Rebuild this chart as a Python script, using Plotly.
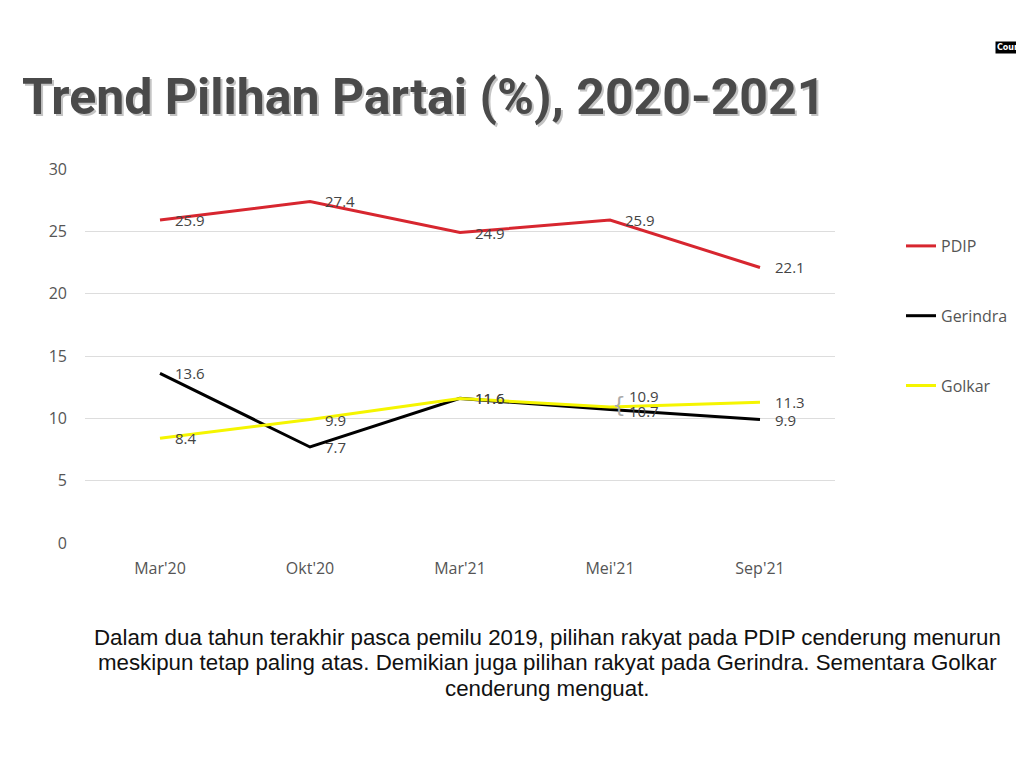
import plotly.graph_objects as go

categories = ["Mar'20", "Okt'20", "Mar'21", "Mei'21", "Sep'21"]
pdip = [25.9, 27.4, 24.9, 25.9, 22.1]
gerindra = [13.6, 7.7, 11.6, 10.7, 9.9]
golkar = [8.4, 9.9, 11.6, 10.9, 11.3]
y_ticks = [0, 5, 10, 15, 20, 25, 30]

series = [
    ("PDIP", pdip, "#d7262f"),
    ("Gerindra", gerindra, "#000000"),
    ("Golkar", golkar, "#f5f500"),
]

# label nudges (pixels) to avoid overlap, keyed by (series, index)
label_yshift = {("Golkar", 3): 11, ("Gerindra", 3): -1}
label_xshift = {("Golkar", 3): 17, ("Gerindra", 3): 17}

LABEL_FONT = "Open Sans, DejaVu Sans"

# page body has an 8px margin; layout numbers below are in figure pixels
OFF = 8
L, T, PW, PH = 85 - OFF, 169 - OFF, 750, 374


def px(sx):
    return (sx - OFF - L) / PW


def py(sy):
    return (T + PH - (sy - OFF)) / PH


fig = go.Figure()
for i, (name, vals, col) in enumerate(series):
    fig.add_trace(go.Scatter(
        x=categories, y=vals, mode="lines", name=name,
        line=dict(color=col, width=3), legendgroup=name,
    ))
    for j, (c, v) in enumerate(zip(categories, vals)):
        fig.add_annotation(
            x=c, y=v, text=f"{v}", showarrow=False, xanchor="left",
            xshift=label_xshift.get((name, j), 13), yshift=label_yshift.get((name, j), 0),
            font=dict(family=LABEL_FONT, size=15, color="#444444"),
        )

# bracket for the close Mei'21 labels
fig.add_annotation(x="Mei'21", y=10.8, text="{", showarrow=False, xanchor="left",
                   xshift=0, yshift=4,
                   font=dict(family="DejaVu Sans ExtraLight, DejaVu Sans", size=22, color="#aaaaaa"))

title = "Trend Pilihan Partai (%), 2020-2021"
tfont = "Roboto, DejaVu Sans"
fig.add_annotation(xref="paper", yref="paper", x=px(20), y=py(66), xanchor="left", yanchor="top",
                   xshift=2, yshift=-2,
                   text=f"<b>{title}</b>", showarrow=False,
                   font=dict(family=tfont, size=50, color="#c4c4c4"))
fig.add_annotation(xref="paper", yref="paper", x=px(20), y=py(66), xanchor="left", yanchor="top",
                   text=f"<b>{title}</b>", showarrow=False,
                   font=dict(family=tfont, size=50, color="#4a4a4a"))

caption_lines = [
    "Dalam dua tahun terakhir pasca pemilu 2019, pilihan rakyat pada PDIP cenderung menurun",
    "meskipun tetap paling atas. Demikian juga pilihan rakyat pada Gerindra. Sementara Golkar",
    "cenderung menguat.",
]
caption_px_y = [637, 662, 688]
for line, sy in zip(caption_lines, caption_px_y):
    fig.add_annotation(xref="paper", yref="paper", x=px(547), y=py(sy),
                       xanchor="center", yanchor="middle",
                       text=line, showarrow=False,
                       font=dict(family="Liberation Sans, Arial", size=22.3, color="#111111"))

fig.add_annotation(xref="paper", yref="paper", x=px(995), y=py(47),
                   xanchor="left", yanchor="middle",
                   text="<b>Courtesy</b>", showarrow=False, bgcolor="#000000", borderpad=1,
                   font=dict(family="DejaVu Sans", size=8, color="#ffffff"))

fig.update_layout(
    width=1024, height=768,
    margin=dict(l=L, r=1024 - L - PW, t=T, b=768 - T - PH, autoexpand=False),
    paper_bgcolor="white", plot_bgcolor="white",
    showlegend=True,
    legend=dict(x=px(901), y=py(229), xanchor="left", yanchor="top",
                tracegroupgap=46, font=dict(family="Open Sans, DejaVu Sans", size=16, color="#555555"),
                itemwidth=30, bgcolor="rgba(0,0,0,0)"),
    xaxis=dict(type="category", range=[-0.5, 4.5], showgrid=False, zeroline=False,
               showline=False, ticks="", ticklabelstandoff=14,
               tickfont=dict(family="Open Sans, DejaVu Sans", size=16, color="#555555")),
    yaxis=dict(range=[0, 30], tickvals=y_ticks, showgrid=True, gridcolor="#dddddd",
               gridwidth=1, zeroline=False, showline=False, ticks="", ticklabelstandoff=17,
               tickfont=dict(family="Open Sans, DejaVu Sans", size=16, color="#555555")),
)

fig.write_html("out.html")
